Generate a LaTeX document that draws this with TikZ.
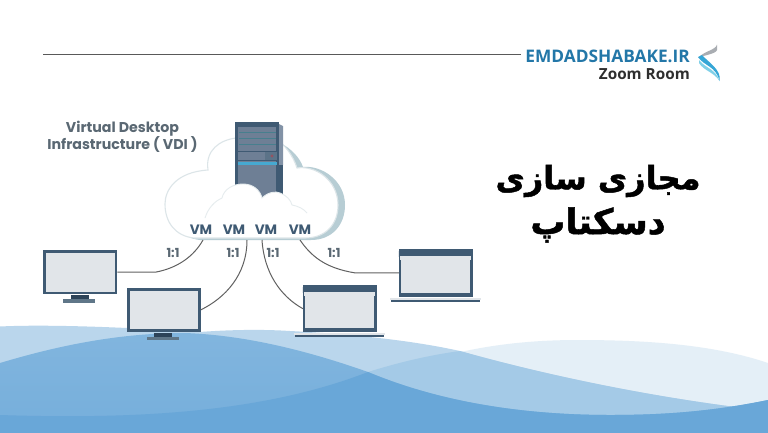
\documentclass[tikz,border=0pt]{standalone}
\usepackage{fontspec}
\setmainfont{Poppins}
\newfontfamily\headfont{Open Sans}
\newfontfamily\persian[Script=Arabic,BoldFeatures={FakeBold=1.4}]{DejaVu Sans}
\TeXXeTstate=1
\definecolor{slateA}{HTML}{3F5A73}
\definecolor{screenA}{HTML}{E1E5E9}
\definecolor{standA}{HTML}{2D4358}
\definecolor{baseA}{HTML}{5F7688}
\definecolor{labelA}{HTML}{5A6873}
\definecolor{cloudE}{HTML}{DCE5E8}
\definecolor{cloudF}{HTML}{E6ECEE}
\definecolor{cloudS}{HTML}{B7CDD4}
\definecolor{waveR}{HTML}{E4EFF7}
\definecolor{waveA}{HTML}{BAD6EC}
\definecolor{waveC}{HTML}{A4CAE7}
\definecolor{waveD}{HTML}{69A7D8}
\definecolor{serverM}{HTML}{6E7F95}
\definecolor{serverS}{HTML}{8292A6}
\definecolor{brand}{HTML}{2377A8}
\definecolor{logoG}{HTML}{A9ADB2}
\definecolor{logoB}{HTML}{35A6D6}
\definecolor{logoC}{HTML}{7FD0E8}
\tikzset{
  screenbox/.style={draw=slateA,fill=screenA,line width=2.8pt,inner sep=0pt,minimum width=71.2pt,minimum height=41.5pt},
  lapbox/.style={draw=slateA,fill=screenA,line width=2.2pt,inner sep=0pt,minimum width=71.5pt},
  wire/.style={draw=black!62,line width=1pt},
  vmlab/.style={font=\fontsize{13.6}{13.6}\selectfont\bfseries,text=slateA,inner sep=0pt},
  ratio/.style={font=\fontsize{12.5}{12.5}\selectfont\bfseries,text=labelA,inner sep=0pt},
  persiantitle/.style={inner sep=0pt,text=black},
}
\begin{document}
\begin{tikzpicture}[x=1pt,y=-1pt]
\useasboundingbox (0,0) rectangle (768,432);
\fill[white] (0,0) rectangle (768,432);
% waves
\fill[waveR] (430,360) .. controls (480,345) and (530,340) .. (578,340) .. controls (650,340) and (715,345) .. (768,363) -- (771,363) -- (771,436) -- (430,436) -- cycle;
\fill[waveA] (-3,326.5) -- (0,326.5) .. controls (30,325) and (90,325) .. (200,332) .. controls (225,330) and (260,329) .. (290,331) .. controls (350,334) and (410,340) .. (460,351) .. controls (520,368) and (620,392) .. (735,407) -- (771,412) -- (771,436) -- (-3,436) -- cycle;
\fill[waveC] (-3,415) -- (0,415) .. controls (150,420) and (270,410) .. (368,372) .. controls (400,362) and (430,355) .. (460,351) .. controls (520,368) and (620,392) .. (735,407) -- (771,400) -- (771,436) -- (-3,436) -- cycle;
\shade[top color=waveA!30!waveD,bottom color=waveD!85!waveA] (-3,364) -- (0,363) .. controls (60,345) and (120,333) .. (185,333) .. controls (240,335) and (300,348) .. (368,372) .. controls (430,398) and (510,415) .. (610,415) .. controls (660,415) and (710,412) .. (768,400) -- (771,400) -- (771,436) -- (-3,436) -- cycle;
\fill[waveD] (-3,415) -- (0,415) .. controls (150,420) and (270,410) .. (368,372) .. controls (430,398) and (510,415) .. (610,415) .. controls (660,415) and (710,412) .. (768,400) -- (771,400) -- (771,436) -- (-3,436) -- cycle;
% header
\coordinate (ruleL) at (43,54.5);
\coordinate (ruleR) at (521,54.5);
\node[anchor=east,inner sep=0pt,font=\headfont\fontsize{17.3}{18}\selectfont\bfseries,text=brand] (brandname) at (690,56) {EMDADSHABAKE.IR};
\node[anchor=east,inner sep=0pt,font=\headfont\fontsize{15.3}{16}\selectfont\bfseries,text=black!82] (room) at (690,74) {Zoom Room};
\draw[black!65,line width=1pt] (ruleL) -- (ruleR);
% logo
\fill[logoG] (717,44.5) .. controls (716,50) and (704,51) .. (698,58) .. controls (704,55) and (716,54) .. (717,50) -- cycle;
\fill[logoB] (698,57) .. controls (704,66) and (716,66) .. (719.5,81) .. controls (722,70) and (708,62) .. (702,55) -- cycle;
\fill[logoC] (699,63) .. controls (704,71) and (714,72) .. (719.5,81) .. controls (716,69) and (705,68) .. (699,60) -- cycle;
% cloud
\path[fill=cloudS] (200,240) .. controls (181,238) and (171,224) .. (171,205) .. controls (171,190) and (180,176) .. (214,170) .. controls (211,150) and (226,140) .. (242,138) -- (280,143) .. controls (291,148) and (300,158) .. (303,167) .. controls (321,165) and (345,180) .. (345,205) .. controls (345,225) and (332,240) .. (311,240) -- cycle;
\path[fill=white,draw=cloudE,line width=1.1pt] (194,238) .. controls (175,236) and (165,222) .. (165,204) .. controls (165,190) and (176,172) .. (208,170) .. controls (205,150) and (220,140) .. (236,138) -- (275,138) .. controls (284,144) and (293,155) .. (297,168) .. controls (315,165) and (338,180) .. (338,205) .. controls (338,225) and (325,238) .. (305,238) -- cycle;
% server
\fill[serverS] (279,124) -- (283,126) -- (283,165) -- (279,165) -- cycle;
\fill[slateA] (235,122) rectangle (279,198);
\fill[slateA] (277,165) rectangle (283,198);
\fill[serverM] (238,127) rectangle (276,198);
\draw[teal!35!serverM,line width=.5pt] (239,132) -- (276,132) (239,138) -- (276,138) (239,144) -- (276,144);
\fill[slateA] (238,150.5) rectangle (277,152);
\fill[slateA!85] (265,152) rectangle (277,160);
\fill[black!15!red!35!serverM] (272,156) circle (1.7);
\fill[slateA] (238,160) rectangle (277,161);
\fill[cyan!60!teal!85] (238,161.5) rectangle (277,165);
% inner small cloud
\fill[white] (205,218) .. controls (208,208) and (215,201) .. (222,198) .. controls (224,189) and (233,184) .. (243,184) .. controls (253,184) and (260,190) .. (262,198) .. controls (268,192) and (276,191) .. (280,193) .. controls (286,195) and (291,200) .. (292,205) .. controls (298,206) and (304,209) .. (307,213) -- (307,232) -- (205,232) -- cycle;
\draw[cloudF,line width=.9pt] (205,218) .. controls (208,208) and (215,201) .. (222,198) .. controls (224,189) and (233,184) .. (243,184) .. controls (253,184) and (260,190) .. (262,198) .. controls (268,192) and (276,191) .. (280,193) .. controls (286,195) and (291,200) .. (292,205) .. controls (298,206) and (304,209) .. (307,213);
% labels
\node[inner sep=0pt,align=center,font=\fontsize{14.2}{17.5}\selectfont\bfseries,text=labelA] (vdi) at (122.5,137) {Virtual Desktop\\Infrastructure ( VDI )};
\node[vmlab] (vm1) at (201,230) {VM};
\node[vmlab] (vm2) at (234,230) {VM};
\node[vmlab] (vm3) at (266,230) {VM};
\node[vmlab] (vm4) at (300,230) {VM};
\coordinate (c1) at (203,240);
\coordinate (c2) at (247,240);
\coordinate (c3) at (262,240);
\coordinate (c4) at (300,240);
% devices
\node[screenbox] (m1) at (80.3,272.2) {};
\fill[standA] (71,295) rectangle (88.7,299);
\fill[baseA] (63,299) rectangle (95,302.5);
\node[screenbox] (m2) at (163.7,309.9) {};
\fill[standA] (154,333) rectangle (172,337);
\fill[baseA] (147,337) rectangle (179,340);
\node[lapbox,minimum height=45.1pt] (l1) at (339.7,308.65) {};
\fill[slateA,rounded corners=2.5pt] (302.85,285) rectangle (376.55,295);
\fill[screenA] (303.95,291.7) rectangle (375.45,296);
\fill[slateA] (302.85,328) rectangle (376.55,332.3);
\fill[screenA] (294,333.3) rectangle (385,335);
\fill[slateA] (295,335) rectangle (384,337);
\node[lapbox,minimum height=45.5pt] (l2) at (435.7,272.85) {};
\fill[slateA,rounded corners=2.5pt] (398.85,249) rectangle (472.55,259);
\fill[screenA] (399.95,255.7) rectangle (471.45,260);
\fill[slateA] (398.85,293) rectangle (472.55,296.7);
\fill[screenA] (390,297.7) rectangle (481,299.5);
\fill[slateA] (391,299.5) rectangle (480,301.5);
% connectors
\draw[wire] (m1.east) -- ++(38,0) .. controls (178,268) and (194,256) .. (c1);
\draw[wire] (m2.east) .. controls (225,298) and (247,275) .. (c2);
\draw[wire] (l1.west) .. controls (280,296) and (264,272) .. (c3);
\draw[wire] (l2.west) -- ++(-44,0) .. controls (325,268) and (311,256) .. (c4);
\node[ratio] (r1) at (173,253) {1:1};
\node[ratio] (r2) at (233,253) {1:1};
\node[ratio] (r3) at (273,253) {1:1};
\node[ratio] (r4) at (334,253) {1:1};
% title
\node[persiantitle,font=\persian\fontsize{32}{32}\selectfont\bfseries] (t1) at (598,181) {\beginR مجازی سازی\endR};
\node[persiantitle,font=\persian\fontsize{35}{35}\selectfont\bfseries] (t2) at (598,225) {\beginR دسکتاپ\endR};
\end{tikzpicture}
\end{document}
